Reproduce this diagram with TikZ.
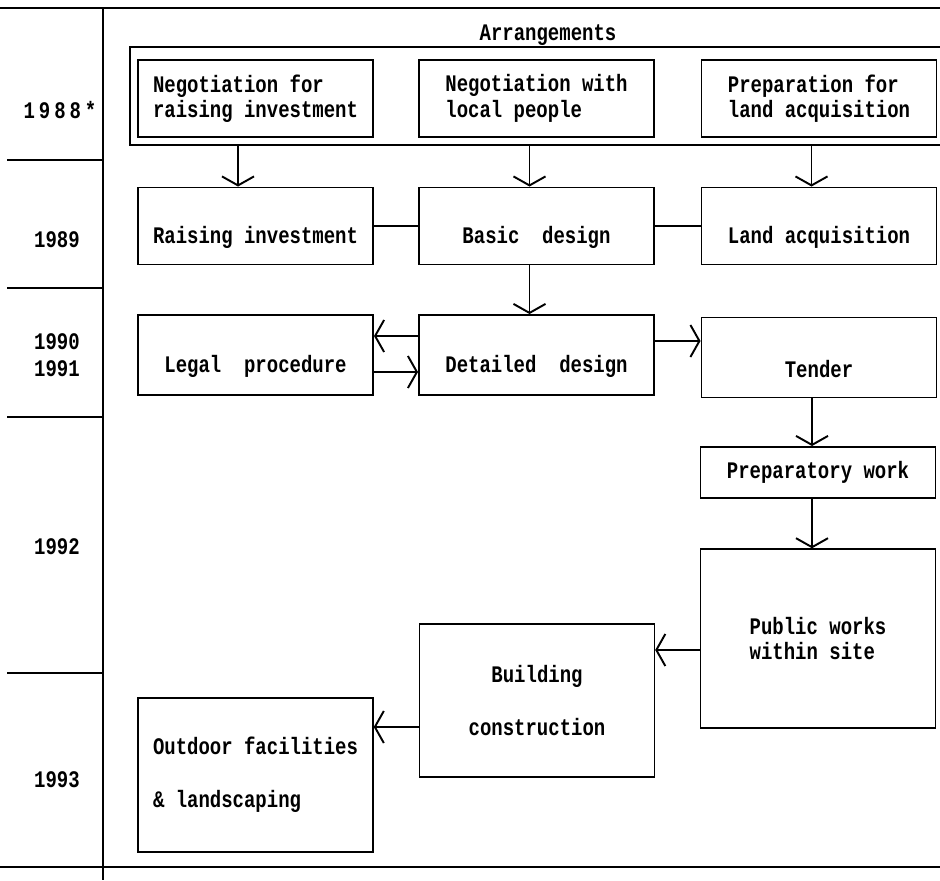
\documentclass[tikz,border=0pt]{standalone}
\usepackage{fontspec}
\setmonofont{Liberation Mono}[FakeStretch=0.8]
\usetikzlibrary{arrows.meta,positioning}

\begin{document}
\begin{tikzpicture}[
    stage/.style={rectangle, draw, line width=1.1pt, minimum width=4.7cm, minimum height=1.54cm, font=\ttfamily\bfseries\fontsize{13.5}{14.5}\selectfont},
    lowstage/.style={stage, text height=0.8cm},
    bigstage/.style={stage, line width=0.8pt},
    year/.style={font=\ttfamily\bfseries\fontsize{13.5}{15}\selectfont, align=center},
    link/.style={line width=1.1pt},
    flow/.style={line width=1.1pt, ->},
    rule/.style={line width=1.4pt},
    >={Straight Barb[length=1.8mm,width=6.4mm]}
]
    \useasboundingbox (0,0) rectangle (18.8,17.6);

    % Time axis
    \draw[rule] (0,17.44) -- (18.8,17.44);
    \draw[rule] (0,0.26) -- (18.8,0.26);
    \draw[link] (2.06,17.44) -- (2.06,0);
    \foreach \y in {14.4,11.84,9.26,4.14}
        \draw[link] (0.15,\y) -- (2.06,\y);

    % Years
    \node[year] (y88) at (1.2,15.4) {1\,9\,8\,8\,*};
    \node[year] (y89) at (1.14,12.8) {1989};
    \node[year] (y90) at (1.14,10.5) {1990\\1991};
    \node[year] (y92) at (1.14,6.66) {1992};
    \node[year] (y93) at (1.14,2.0) {1993};

    % Arrangements
    \node[draw, line width=1.1pt, minimum width=16.4cm, minimum height=1.96cm] (arr) at (10.8,15.68) {};
    \node[year] (arrlbl) at (10.96,16.9) {Arrangements};
    \node[stage, align=left] (negfund) at (5.11,15.63) {Negotiation for\\raising investment};
    \node[stage, align=left] (neglocal) at (10.73,15.63) {Negotiation with\\local people};
    \node[stage, align=left] (prepland) at (16.38,15.63) {Preparation for\\land acquisition};

    % 1989
    \node[lowstage] (raise) at (5.11,13.08) {Raising investment};
    \node[lowstage] (basic) at (10.73,13.08) {Basic~ design};
    \node[lowstage] (land) at (16.38,13.08) {Land acquisition};
    \draw[flow] ([xshift=-0.35cm]raise.north |- arr.south) -- ([xshift=-0.35cm]raise.north);
    \draw[flow] ([xshift=-0.14cm]basic.north |- arr.south) -- ([xshift=-0.14cm]basic.north);
    \draw[flow] ([xshift=-0.15cm]land.north |- arr.south) -- ([xshift=-0.15cm]land.north);
    \draw[link] (raise) -- (basic);
    \draw[link] (basic) -- (land);

    % 1990-1991
    \node[lowstage, minimum height=1.6cm] (legal) at (5.11,10.5) {Legal~ procedure};
    \node[lowstage, minimum height=1.6cm] (detail) at (10.73,10.5) {Detailed~ design};
    \node[lowstage, minimum height=1.6cm] (tender) at (16.38,10.45) {Tender};
    \draw[flow] ([xshift=-0.14cm]basic.south) -- ([xshift=-0.14cm]basic.south |- detail.north);
    \draw[flow] ([yshift=0.38cm]detail.west) -- ([yshift=0.38cm]detail.west -| legal.east);
    \draw[flow] ([yshift=-0.34cm]legal.east) -- ([yshift=-0.34cm]legal.east -| detail.west);
    \draw[flow] ([yshift=0.28cm]detail.east) -- ([yshift=0.28cm]detail.east -| tender.west);

    % 1992
    \node[stage, minimum height=1.02cm] (prepwork) at (16.36,8.15) {Preparatory work};
    \node[bigstage, align=left, minimum height=3.58cm] (public) at (16.36,4.83) {Public works\\within site};
    \draw[flow] ([xshift=-0.14cm]tender.south) -- ([xshift=-0.14cm]tender.south |- prepwork.north);
    \draw[flow] ([xshift=-0.12cm]prepwork.south) -- ([xshift=-0.12cm]prepwork.south |- public.north);

    % 1993
    \node[bigstage, align=center, minimum height=3.06cm] (build) at (10.74,3.59) {Building\\[0.55cm]construction};
    \node[bigstage, align=left, minimum height=3.08cm] (outdoor) at (5.11,2.1) {Outdoor facilities\\[0.55cm]\& landscaping};
    \draw[flow] ([yshift=-0.23cm]public.west) -- ([yshift=-0.23cm]public.west -| build.east);
    \draw[flow] ([yshift=-0.53cm]build.west) -- ([yshift=-0.53cm]build.west -| outdoor.east);
\end{tikzpicture}
\end{document}
